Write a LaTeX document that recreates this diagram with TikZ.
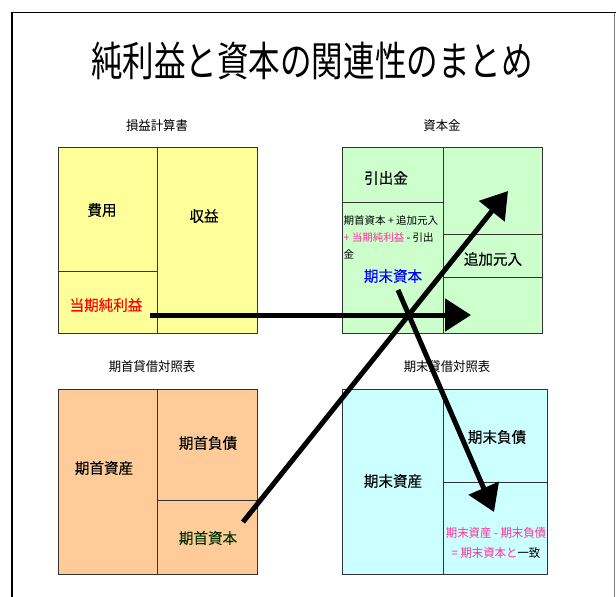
\documentclass[tikz,border=0pt]{standalone}
\usepackage{fontspec}
\usepackage{graphicx}
\newfontfamily\jp{Noto Sans CJK JP}
\newfontfamily\jpb[FakeBold=0.12]{Noto Sans CJK JP}
\usetikzlibrary{arrows.meta}
\definecolor{isyel}{HTML}{FFFF99}
\definecolor{capgrn}{HTML}{CCFFCC}
\definecolor{bsorg}{HTML}{FFCC99}
\definecolor{bscyan}{HTML}{CCFFFF}
\definecolor{cellline}{HTML}{333333}
\definecolor{txtred}{HTML}{FF0000}
\definecolor{txtpink}{HTML}{FF3399}
\definecolor{txtblue}{HTML}{0000FF}
\definecolor{txtdkgrn}{HTML}{003300}
\tikzset{
  cell/.style={draw=cellline, line width=0.9pt, anchor=north west, inner sep=0pt, outer sep=0pt},
  lbl/.style={font=\jpb\fontsize{15}{15}\selectfont, inner sep=0pt, xscale=0.97},
  sub/.style={font=\jp\fontsize{13}{13}\selectfont, inner sep=0pt, xscale=0.95},
  small/.style={font=\jp\fontsize{10.5}{10.5}\selectfont, inner sep=0pt, anchor=west},
  pinkt/.style={font=\jp\fontsize{12}{12}\selectfont, inner sep=0pt, xscale=0.95},
  bigarrow/.style={line width=5pt, -{Triangle[length=26pt,width=32pt]}},
}
\newcommand{\cellbox}[6]{% name, x1, y1, x2, y2, fill
  \path (#2,#3) node[cell, fill=#6, minimum width=#4pt-#2pt, minimum height=#5pt-#3pt] (#1) {};}
\begin{document}
\begin{tikzpicture}[x=1pt,y=-1pt]
\useasboundingbox (0,0) rectangle (616,597);
\fill[white] (0,0) rectangle (616,597);
% frame
\draw[line width=1.5pt] (12,600) -- (12,12.5) -- (616,12.5);
\draw[gray, line width=1pt] (614.5,12.5) -- (614.5,600);
% title
\node[font=\jp\fontsize{41}{41}\selectfont, inner sep=0pt, xscale=0.77] (title) at (312,61) {純利益と資本の関連性のまとめ};
% subtitles
\node[sub] (t1) at (157,126) {損益計算書};
\node[sub] (t2) at (442,126) {資本金};
\node[sub] (t3) at (152,367) {期首貸借対照表};
\node[sub] (t4) at (447,367) {期末貸借対照表};
% income statement
\cellbox{hiyo}{58}{147}{157}{271}{isyel}
\cellbox{rieki}{58}{271}{157}{333}{isyel}
\cellbox{shueki}{157}{147}{257}{333}{isyel}
\node[lbl] (l1) at (102,210) {費用};
\node[lbl] (l2) at (204,216) {収益};
\node[lbl, text=txtred] (l3) at (106,305) {当期純利益};
% capital
\cellbox{hikidashi}{342}{147}{443}{202}{capgrn}
\cellbox{kimatsu}{342}{202}{443}{333}{capgrn}
\cellbox{cr1}{443}{147}{542}{234}{capgrn}
\cellbox{cr2}{443}{234}{542}{277}{capgrn}
\cellbox{cr3}{443}{277}{542}{333}{capgrn}
\node[lbl] (l4) at (386,178) {引出金};
\node[small] (s1) at (343.5,221) {期首資本 + 追加元入};
\node[small] (s2) at (343.5,238) {\textcolor{txtpink}{ + 当期純利益} - 引出};
\node[small] (s3) at (343.5,254) {金};
\node[lbl, text=txtblue] (l5) at (393,276) {期末資本};
\node[lbl] (l6) at (493,259) {追加元入};
% opening BS
\cellbox{osisan}{58}{389}{157}{574}{bsorg}
\cellbox{ofusai}{157}{389}{257}{500}{bsorg}
\cellbox{oshihon}{157}{500}{257}{574}{bsorg}
\node[lbl] (l7) at (104,468) {期首資産};
\node[lbl] (l8) at (208,443) {期首負債};
\node[lbl, text=txtdkgrn] (l9) at (208,538) {期首資本};
% closing BS
\cellbox{csisan}{342}{389}{443}{574}{bscyan}
\cellbox{cfusai}{443}{389}{547}{482}{bscyan}
\cellbox{cshihon}{443}{482}{547}{574}{bscyan}
\node[lbl] (l10) at (393,481) {期末資産};
\node[lbl] (l11) at (497,437) {期末負債};
\node[pinkt, text=txtpink] (p1) at (496,533) {期末資産 - 期末負債};
\node[pinkt, text=txtpink] (p2) at (496,553) {= 期末資本と\textcolor{black}{一致}};
% arrows
\coordinate (a1s) at (150,315);
\coordinate (a1e) at (471,315);
\coordinate (a2s) at (243,522);
\coordinate (a2e) at (508,191);
\coordinate (a3s) at (398,290);
\coordinate (a3e) at (494,512);
\draw[bigarrow] (a1s) -- (a1e);
\draw[bigarrow] (a2s) -- (a2e);
\draw[bigarrow] (a3s) -- (a3e);
\end{tikzpicture}
\end{document}
